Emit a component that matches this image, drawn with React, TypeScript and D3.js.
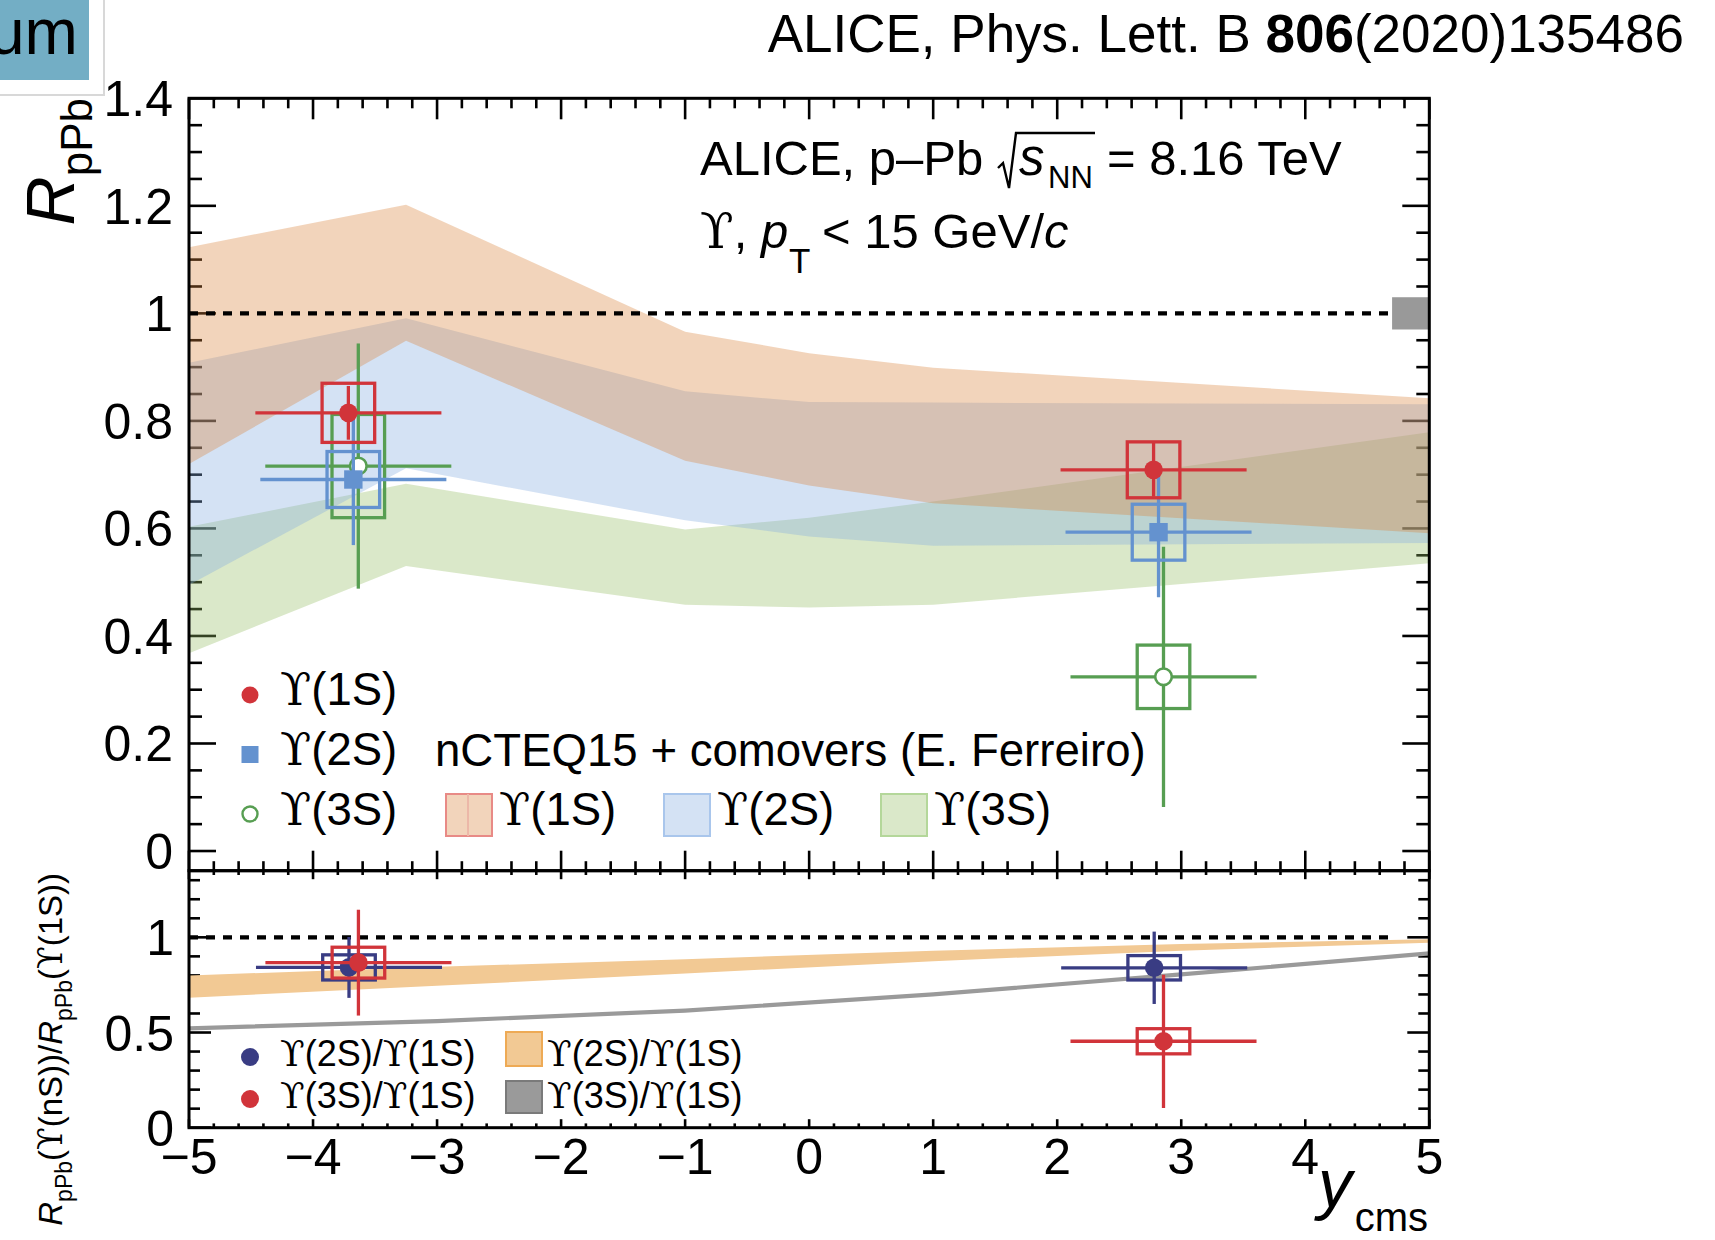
import React from 'react';
import * as d3 from 'd3';

const W = 1715;
const H = 1240;
const FONT = "'Liberation Sans', Arial, Helvetica, sans-serif";
const UPS_FONT = "'DejaVu Serif', 'Liberation Serif', serif";

// ---------- model bands: nCTEQ15 + comovers (E. Ferreiro) ----------
const bandRapidity = [-5, -3.25, -1, 0, 1, 5];
const band1SLow = [0.72, 0.949, 0.726, 0.68, 0.647, 0.591];
const band1SHigh = [1.123, 1.202, 0.966, 0.926, 0.899, 0.842];
const band2SLow = [0.495, 0.712, 0.615, 0.585, 0.568, 0.573];
const band2SHigh = [0.908, 0.991, 0.855, 0.835, 0.834, 0.831];
const band3SLow = [0.368, 0.53, 0.458, 0.453, 0.458, 0.535];
const band3SHigh = [0.603, 0.683, 0.598, 0.62, 0.65, 0.779];

// ratio model bands
const ratioRapidity = [-5, -3, -1, 1, 3, 5];
const ratio2SLow = [0.683, 0.745, 0.81, 0.875, 0.93, 0.972];
const ratio2SHigh = [0.8, 0.845, 0.885, 0.93, 0.965, 0.99];
const ratio3SLow = [0.511, 0.549, 0.604, 0.689, 0.794, 0.905];
const ratio3SHigh = [0.533, 0.571, 0.626, 0.711, 0.816, 0.927];

// ---------- data: R_pPb ----------
const binHalfWidth = 0.75;
const ups1SRap = [-3.715, 2.777];
const ups1SVal = [0.815, 0.709];
const ups1SStat = [0.05, 0.05];
const ups1SSyst = [0.055, 0.052];

const ups2SRap = [-3.675, 2.817];
const ups2SVal = [0.691, 0.593];
const ups2SStat = [0.122, 0.121];
const ups2SSyst = [0.052, 0.052];

const ups3SRap = [-3.635, 2.857];
const ups3SVal = [0.716, 0.324];
const ups3SStat = [0.228, 0.242];
const ups3SSyst = [0.096, 0.059];

// ---------- data: double ratios ----------
const r2SRap = [-3.71, 2.782];
const r2SVal = [0.842, 0.84];
const r2SStat = [0.16, 0.19];
const r2SSyst = [0.066, 0.064];

const r3SRap = [-3.634, 2.857];
const r3SVal = [0.867, 0.454];
const r3SStat = [0.278, 0.35];
const r3SSyst = [0.081, 0.066];

const globalUnc = 0.03;

// axis ticks
const xMajor = d3.range(-5, 5.001, 1);
const xMinor = d3.range(-5, 5.001, 0.2);
const yTopMajor = d3.range(0, 1.4001, 0.2);
const yTopMinor = d3.range(0, 1.4001, 0.05);
const yBotMajor = [0, 0.5, 1];
const yBotMinor = d3.range(0, 1.3501, 0.1);

const RED = '#d1343a';
const BLUE = '#6492cf';
const GREEN = '#579e52';
const NAVY = '#393c83';

const Ups = () => <tspan fontFamily={UPS_FONT}>ϒ</tspan>;

type Scale = d3.ScaleLinear<number, number>;

function ErrPoints(props: {
  xs: number[]; ys: number[]; stat: number[]; syst: number[];
  color: string; marker: 'circle' | 'square' | 'open';
  x: Scale; y: Scale;
}) {
  const { xs, ys, stat, syst, color, marker, x, y } = props;
  const boxHalf = 0.212;
  return (
    <g>
      {xs.map((xv, i) => {
        const cx = x(xv);
        const cy = y(ys[i]);
        return (
          <g key={i}>
            <line x1={x(xv - binHalfWidth)} x2={x(xv + binHalfWidth)} y1={cy} y2={cy} stroke={color} strokeWidth={3.3} />
            <line x1={cx} x2={cx} y1={y(ys[i] - stat[i])} y2={y(ys[i] + stat[i])} stroke={color} strokeWidth={3.3} />
            <rect x={x(xv - boxHalf)} y={y(ys[i] + syst[i])} width={x(xv + boxHalf) - x(xv - boxHalf)}
              height={y(ys[i] - syst[i]) - y(ys[i] + syst[i])} fill="none" stroke={color} strokeWidth={3.3} />
            {marker === 'circle' && <circle cx={cx} cy={cy} r={9.3} fill={color} />}
            {marker === 'square' && <rect x={cx - 9.2} y={cy - 9.2} width={18.4} height={18.4} fill={color} />}
            {marker === 'open' && <circle cx={cx} cy={cy} r={8.3} fill="#fff" stroke={color} strokeWidth={2.6} />}
          </g>
        );
      })}
    </g>
  );
}

export default function App() {
  const left = 189;
  const right = 1429.3;
  const x = d3.scaleLinear().domain([-5, 5]).range([left, right]);
  const yT = d3.scaleLinear().domain([-0.0366, 1.4]).range([870.7, 98.3]);
  const yB = d3.scaleLinear().domain([0, 1.35]).range([1127.7, 870.7]);
  const topY0 = yT.range()[1];
  const topY1 = yT.range()[0];
  const botY0 = yB.range()[1];
  const botY1 = yB.range()[0];

  const area = (ys: Scale) =>
    d3.area<[number, number, number]>()
      .x((d) => x(d[0]))
      .y0((d) => ys(d[1]))
      .y1((d) => ys(d[2]));
  const zip = (xs: number[], lo: number[], hi: number[]) =>
    xs.map((v, i) => [v, lo[i], hi[i]] as [number, number, number]);

  const isMajor = (v: number, majors: number[]) => majors.some((m) => Math.abs(m - v) < 1e-6);
  const fmtY = (v: number) => String(+v.toFixed(1));
  const fmtX = d3.format('d');

  const tickStroke = '#000';
  const tw = 2.6;

  const xTicks = (yEdge: number, dir: number, maj: number, min: number, key: string) =>
    xMinor.map((v, i) => {
      const L = isMajor(v, xMajor) ? maj : min;
      return <line key={key + i} x1={x(v)} x2={x(v)} y1={yEdge} y2={yEdge + dir * L} stroke={tickStroke} strokeWidth={tw} />;
    });
  const yTicks = (ys: Scale, vals: number[], majors: number[], xEdge: number, dir: number, maj: number, min: number, key: string) =>
    vals.map((v, i) => {
      const L = isMajor(v, majors) ? maj : min;
      return <line key={key + i} x1={xEdge} x2={xEdge + dir * L} y1={ys(v)} y2={ys(v)} stroke={tickStroke} strokeWidth={tw} />;
    });

  const alpha = 0.35;

  return (
    <svg width={W} height={H} viewBox={`0 0 ${W} ${H}`}
      style={{ position: 'absolute', left: 0, top: 0, background: '#fff' }}
      fontFamily={FONT}>
      <rect x={0} y={0} width={W} height={H} fill="#fff" />

      {/* top-left badge */}
      <rect x={-4} y={-4} width={108} height={99} fill="#fff" stroke="#d8d8d8" strokeWidth={2} />
      <rect x={0} y={0} width={89} height={80} fill="#73aec5" />
      <text x={-11} y={54} fontSize={64} fill="#000">um</text>

      {/* reference */}
      <text x={1684} y={52} textAnchor="end" fontSize={53}>
        ALICE, Phys. Lett. B <tspan fontWeight="bold">806</tspan>(2020)135486
      </text>

      {/* ---------------- top panel ---------------- */}
      {xTicks(topY0, 1, 21, 10, 'tt')}
      {xTicks(topY1, -1, 20, 9.5, 'tb')}
      {yTicks(yT, yTopMinor, yTopMajor, left, 1, 27, 13, 'tl')}
      {yTicks(yT, yTopMinor, yTopMajor, right, -1, 27, 13, 'tr')}

      <path d={area(yT)(zip(bandRapidity, band3SLow, band3SHigh)) || ''} fill="rgb(149,189,101)" fillOpacity={alpha} />
      <path d={area(yT)(zip(bandRapidity, band2SLow, band2SHigh)) || ''} fill="rgb(132,172,223)" fillOpacity={alpha} />
      <path d={area(yT)(zip(bandRapidity, band1SLow, band1SHigh)) || ''} fill="rgb(218,132,61)" fillOpacity={alpha} />

      <line x1={x(-5)} x2={x(5 - 0.3)} y1={yT(1)} y2={yT(1)} stroke="#000" strokeWidth={4.2} strokeDasharray="9 8" />
      <rect x={x(5 - 0.3)} y={yT(1 + globalUnc)} width={x(5) - x(5 - 0.3)} height={yT(1 - globalUnc) - yT(1 + globalUnc)} fill="#999" />

      <ErrPoints xs={ups3SRap} ys={ups3SVal} stat={ups3SStat} syst={ups3SSyst} color={GREEN} marker="open" x={x} y={yT} />
      <ErrPoints xs={ups2SRap} ys={ups2SVal} stat={ups2SStat} syst={ups2SSyst} color={BLUE} marker="square" x={x} y={yT} />
      <ErrPoints xs={ups1SRap} ys={ups1SVal} stat={ups1SStat} syst={ups1SSyst} color={RED} marker="circle" x={x} y={yT} />

      <rect x={left} y={topY0} width={right - left} height={topY1 - topY0} fill="none" stroke="#000" strokeWidth={3} />

      {/* y tick labels top */}
      {yTopMajor.map((v, i) => (
        <text key={'ytl' + i} x={173} y={yT(v) + 18} textAnchor="end" fontSize={50}>{fmtY(v)}</text>
      ))}

      {/* y title top */}
      <text transform={`translate(74, 98) rotate(-90)`} textAnchor="end" fontSize={68}>
        <tspan fontStyle="italic">R</tspan>
        <tspan fontSize={44} dy={18}>pPb</tspan>
      </text>

      {/* annotations */}
      <text x={700} y={175} fontSize={49}>ALICE, p–Pb</text>
      <path d="M998,168 L1003,163 L1009,188 L1016,133 L1095,133" fill="none" stroke="#000" strokeWidth={2.4} />
      <text x={1019} y={175} fontSize={51} fontStyle="italic">s</text>
      <text x={1048} y={188} fontSize={31}>NN</text>
      <text x={1107} y={175} fontSize={49}>= 8.16 TeV</text>

      <text x={700} y={248} fontSize={49}><Ups />, <tspan fontStyle="italic">p</tspan></text>
      <text x={789} y={273} fontSize={35}>T</text>
      <text x={822} y={248} fontSize={49}>&lt; 15 GeV/<tspan fontStyle="italic">c</tspan></text>

      {/* legend top: data */}
      <circle cx={250} cy={695} r={8.5} fill={RED} />
      <text x={280} y={705} fontSize={45.5}><Ups />(1S)</text>
      <rect x={241.5} y={746} width={17} height={17} fill={BLUE} />
      <text x={280} y={765} fontSize={45.5}><Ups />(2S)</text>
      <circle cx={250} cy={814} r={7.5} fill="#fff" stroke={GREEN} strokeWidth={2.4} />
      <text x={280} y={825} fontSize={45.5}><Ups />(3S)</text>

      {/* legend top: model */}
      <text x={435} y={766} fontSize={45.6}>nCTEQ15 + comovers (E. Ferreiro)</text>
      <rect x={446} y={794} width={46} height={42} fill="rgb(242,212,187)" stroke="#e88a86" strokeWidth={2} />
      <line x1={468} x2={468} y1={794} y2={836} stroke="#ecb8a8" strokeWidth={2} />
      <text x={499} y={825} fontSize={45.5}><Ups />(1S)</text>
      <rect x={664} y={794} width={46} height={42} fill="rgb(212,226,244)" stroke="#a9c6ec" strokeWidth={2} />
      <text x={717} y={825} fontSize={45.5}><Ups />(2S)</text>
      <rect x={881} y={794} width={46} height={42} fill="rgb(218,232,201)" stroke="#b4d79a" strokeWidth={2} />
      <text x={934} y={825} fontSize={45.5}><Ups />(3S)</text>

      {/* ---------------- bottom panel ---------------- */}
      {xTicks(botY0, 1, 8.5, 4.3, 'bt')}
      {xTicks(botY1, -1, 8.5, 4.3, 'bb')}
      {yTicks(yB, yBotMinor, yBotMajor, left, 1, 22, 11, 'bl')}
      {yTicks(yB, yBotMinor, yBotMajor, right, -1, 22, 11, 'br')}

      <path d={area(yB)(zip(ratioRapidity, ratio2SLow, ratio2SHigh)) || ''} fill="#f2c994" />
      <path d={area(yB)(zip(ratioRapidity, ratio3SLow, ratio3SHigh)) || ''} fill="#9a9a9a" />

      <line x1={x(-5)} x2={x(5 - 0.3)} y1={yB(1)} y2={yB(1)} stroke="#000" strokeWidth={4.2} strokeDasharray="9 8" />

      <ErrPoints xs={r2SRap} ys={r2SVal} stat={r2SStat} syst={r2SSyst} color={NAVY} marker="circle" x={x} y={yB} />
      <ErrPoints xs={r3SRap} ys={r3SVal} stat={r3SStat} syst={r3SSyst} color={RED} marker="circle" x={x} y={yB} />

      <rect x={left} y={botY0} width={right - left} height={botY1 - botY0} fill="none" stroke="#000" strokeWidth={3} />

      {yBotMajor.map((v, i) => (
        <text key={'ybl' + i} x={174} y={yB(v) + 18} textAnchor="end" fontSize={50}>{fmtY(v)}</text>
      ))}
      {xMajor.map((v, i) => (
        <text key={'xl' + i} x={x(v)} y={1174} textAnchor="middle" fontSize={50}>{fmtX(v)}</text>
      ))}

      {/* x title */}
      <text x={1318} y={1207} fontSize={68} fontStyle="italic">y</text>
      <text x={1428} y={1231} fontSize={40} textAnchor="end">cms</text>

      {/* y title bottom */}
      <text transform={`translate(62, 873) rotate(-90)`} textAnchor="end" fontSize={33}>
        <tspan fontStyle="italic">R</tspan>
        <tspan fontSize={23} dy={10}>pPb</tspan>
        <tspan dy={-10}>(<Ups />(nS))/</tspan>
        <tspan fontStyle="italic">R</tspan>
        <tspan fontSize={23} dy={10}>pPb</tspan>
        <tspan dy={-10}>(<Ups />(1S))</tspan>
      </text>

      {/* legend bottom */}
      <circle cx={250} cy={1057} r={9} fill={NAVY} />
      <text x={280} y={1066} fontSize={36}><Ups />(2S)/<Ups />(1S)</text>
      <circle cx={250} cy={1099} r={9} fill={RED} />
      <text x={280} y={1108} fontSize={36}><Ups />(3S)/<Ups />(1S)</text>
      <rect x={506} y={1032} width={36} height={34} fill="#f2c994" stroke="#eeaa55" strokeWidth={2} />
      <text x={547} y={1066} fontSize={36}><Ups />(2S)/<Ups />(1S)</text>
      <rect x={506} y={1081} width={36} height={32} fill="#9a9a9a" stroke="#7a7a7a" strokeWidth={2} />
      <text x={547} y={1108} fontSize={36}><Ups />(3S)/<Ups />(1S)</text>
    </svg>
  );
}
